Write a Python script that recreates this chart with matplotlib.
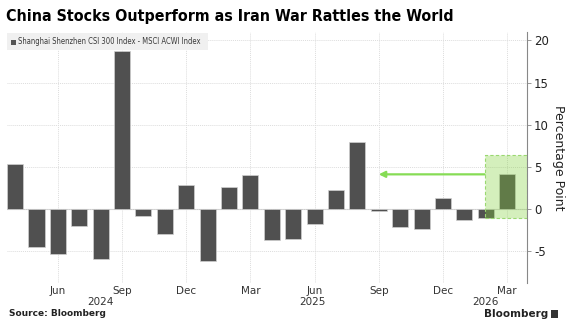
import matplotlib
matplotlib.use("Agg")
import matplotlib.pyplot as plt
from matplotlib.patches import Rectangle

# Monthly bars, Apr 2024 .. Mar 2026
months = ["Apr 2024", "May 2024", "Jun 2024", "Jul 2024", "Aug 2024", "Sep 2024",
          "Oct 2024", "Nov 2024", "Dec 2024", "Jan 2025", "Feb 2025", "Mar 2025",
          "Apr 2025", "May 2025", "Jun 2025", "Jul 2025", "Aug 2025", "Sep 2025",
          "Oct 2025", "Nov 2025", "Dec 2025", "Jan 2026", "Feb 2026", "Mar 2026"]
values = [5.3, -4.5, -5.3, -2.0, -5.9, 18.7,
          -0.8, -3.0, 2.8, -6.2, 2.6, 4.0,
          -3.7, -3.6, -1.8, 2.2, 7.9, -0.3,
          -2.2, -2.4, 1.3, -1.3, -1.1, 4.2]
tick_idx = [2, 5, 8, 11, 14, 17, 20, 23]
tick_labels = ["Jun", "Sep", "Dec", "Mar", "Jun", "Sep", "Dec", "Mar"]
year_labels = ["2024", "2025", "2026"]
year_pos = [4, 13.9, 22]
y_ticks = [-5, 0, 5, 10, 15, 20]

highlight_lo, highlight_hi = -1.1, 6.4
arrow_y = 4.1
arrow_from, arrow_to = 22.0, 17.0

fig = plt.figure(figsize=(5.7, 3.3), dpi=100)
ax = fig.add_axes([7/570, 1-283/330, 520/570, 251/330])

x = list(range(len(values)))
ax.bar(x, values, width=0.75, color="#505050", edgecolor="#d0d0d0", linewidth=0.5, zorder=3)

ax.set_xlim(-0.38, 23.93)
ax.set_ylim(-8.8, 21.0)

# highlight box
ax.add_patch(Rectangle((arrow_from - 0.05, highlight_lo), 23.93 - arrow_from + 0.05,
                       highlight_hi - highlight_lo, facecolor=(0.51, 0.82, 0.23, 0.34),
                       edgecolor="#9ad870", linestyle=(0, (3, 2)), linewidth=0.8, zorder=4))
ax.annotate("", xy=(arrow_to, arrow_y), xytext=(arrow_from - 0.05, arrow_y),
            arrowprops=dict(arrowstyle="-|>", color="#86dc55", lw=1.6,
                            mutation_scale=9, shrinkA=0, shrinkB=0), zorder=5)

ax.yaxis.tick_right()
ax.yaxis.set_label_position("right")
ax.set_yticks(y_ticks)
ax.set_yticklabels([str(v) for v in y_ticks], fontsize=8.5, color="#222222")
ax.set_ylabel("Percentage Point", fontsize=9, rotation=270, labelpad=12, color="#222222")
ax.set_xticks(tick_idx)
ax.set_xticklabels(tick_labels, fontsize=7.5, color="#333333")
ax.tick_params(axis="x", length=0, pad=2)
ax.tick_params(axis="y", length=3, width=0.6, color="#888888", pad=2)

for s in ["top", "left", "bottom"]:
    ax.spines[s].set_visible(False)
ax.spines["right"].set_color("#888888")
ax.spines["right"].set_linewidth(0.8)

ax.grid(True, color="#dddddd", linestyle=(0, (1, 1)), linewidth=0.7, zorder=0)
ax.axhline(0, color="#cccccc", linewidth=0.8, zorder=1)

for lab, p in zip(year_labels, year_pos):
    ax.text(p, -11.1, lab, fontsize=7.5, color="#333333", ha="center", va="center")

# legend
fig.patches.append(Rectangle((7/570, 1-50/330), 201/570, 17/330, transform=fig.transFigure,
                             facecolor="#f0f0f0", edgecolor="none", zorder=5))
fig.patches.append(Rectangle((11/570, 1-44.5/330), 5/570, 5/330, transform=fig.transFigure,
                             facecolor="#555555", edgecolor="none", zorder=6))
fig.text(18/570, 1-41.5/330, "Shanghai Shenzhen CSI 300 Index - MSCI ACWI Index",
         fontsize=5.5, family="DejaVu Sans", fontstretch="condensed", color="#3a3a3a",
         va="center", zorder=7)

fig.text(6/570, 1-17/330, "China Stocks Outperform as Iran War Rattles the World",
         fontsize=11.4, fontweight="bold", family="DejaVu Sans", fontstretch="condensed",
         color="#000000", va="center")
fig.text(9/570, 1-314/330, "Source: Bloomberg", fontsize=6.5, fontweight="bold",
         color="#222222", va="center")
fig.text(548/570, 1-314/330, "Bloomberg", fontsize=7.5, fontweight="bold",
         color="#222222", va="center", ha="right")
fig.patches.append(Rectangle((551/570, 1-318/330), 7/570, 8/330, transform=fig.transFigure,
                             facecolor="#333333", edgecolor="none"))

fig.savefig("out.png", dpi=100)
